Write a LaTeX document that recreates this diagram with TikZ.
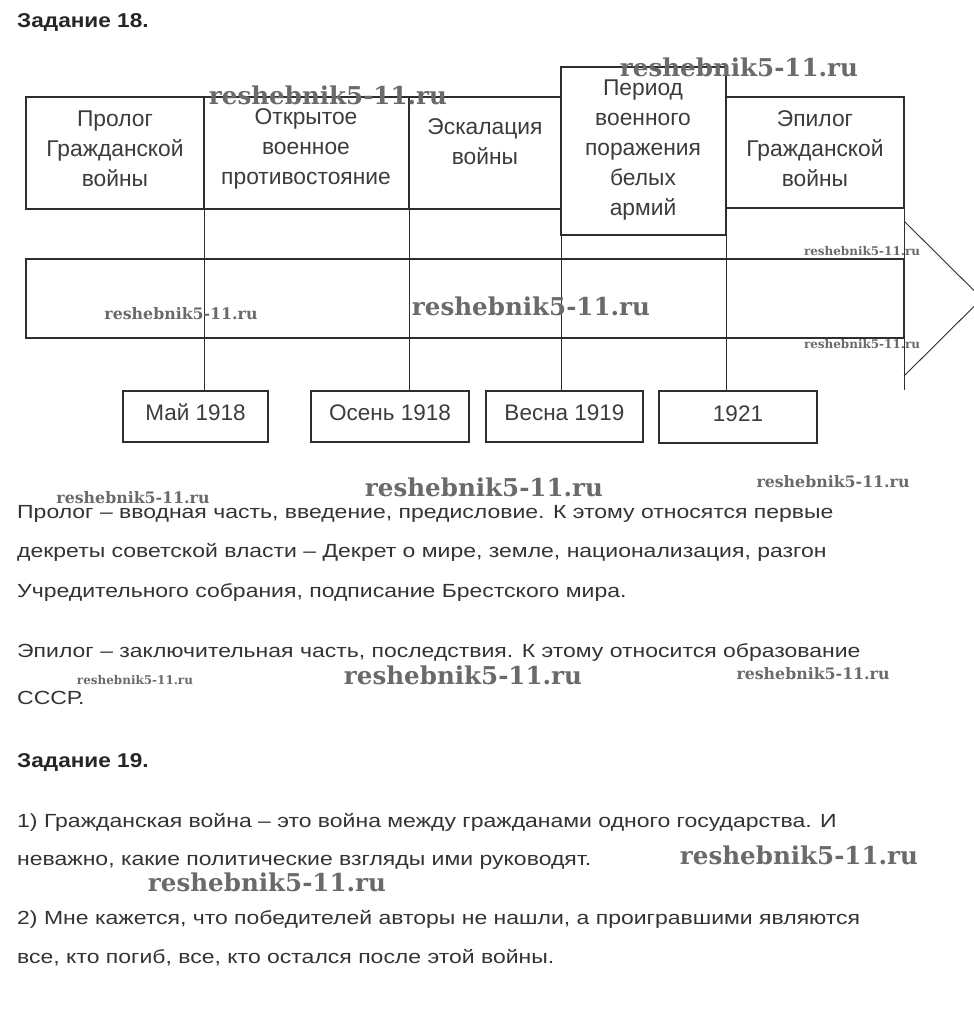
\documentclass[tikz,border=0pt]{standalone}
\usepackage{graphicx}
\usepackage{fontspec}
\setmainfont{Liberation Sans}
\newfontfamily\bodyfont{Liberation Sans}[FakeStretch=1.21]
\newfontfamily\headfont{Liberation Sans}[FakeStretch=1.13]
\newfontfamily\wmfont{DejaVu Serif}
\definecolor{linec}{HTML}{2E2E2E}
\definecolor{boxtxt}{HTML}{3C3C3C}
\definecolor{bodytxt}{HTML}{333333}
\definecolor{wmc}{HTML}{6A6A6A}
\begin{document}
\begin{tikzpicture}[x=1pt,y=-1pt,
  tbox/.style={draw=linec, line width=2pt, inner sep=0pt, outer sep=0pt, anchor=north west},
  band/.style={draw=linec, line width=1.4pt, inner sep=0pt, outer sep=0pt, anchor=north west},
  boxlabel/.style={align=center, text=boxtxt, inner sep=0pt, font=\fontsize{22.8}{30}\selectfont},
  datebox/.style={draw=linec, line width=2pt, inner sep=0pt, outer sep=0pt, anchor=north west, text=boxtxt, text height=16.5pt, text depth=8.5pt, font=\fontsize{22.5}{25}\selectfont},
  conn/.style={draw=linec, line width=0.9pt},
  para/.style={anchor=base west, inner sep=0pt, text=bodytxt, font=\bodyfont\fontsize{19}{23}\selectfont},
  head/.style={anchor=base west, inner sep=0pt, text=black!85, font=\headfont\fontsize{20}{23}\selectfont\bfseries},
  wm/.style={inner sep=0pt, text=wmc, font=\wmfont\bfseries}
]
\useasboundingbox (0,0) rectangle (974,1018);
\fill[white] (0,0) rectangle (974,1018);

% heading
\node[head] (h18) at (17,27) {Задание 18.};

% top boxes
\node[tbox, minimum width=178pt, minimum height=112pt] (b1) at (26,97) {};
\node[tbox, minimum width=205pt, minimum height=112pt] (b2) at (204,97) {};
\node[tbox, minimum width=152pt, minimum height=112pt] (b3) at (409,97) {};
\node[tbox, minimum width=165pt, minimum height=168pt] (b4) at (561,67) {};
\node[tbox, minimum width=178pt, minimum height=111pt] (b5) at (726,97) {};

\node[boxlabel] (t1) at (115,149) {Пролог\\Гражданской\\войны};
\node[boxlabel] (t2) at (306,149) {Открытое\\военное\\противостояние};
\node[boxlabel] (t3) at (485,142) {Эскалация\\войны};
\node[boxlabel] (t4) at (643,150) {Период\\военного\\поражения\\белых\\армий};
\node[boxlabel] (t5) at (815,149) {Эпилог\\Гражданской\\войны};

% band
\node[band, minimum width=878pt, minimum height=79pt] (bd) at (26,259) {};

% date boxes
\node[datebox, minimum width=145pt, minimum height=51pt] (m1) at (123,391) {Май 1918};
\node[datebox, minimum width=158pt, minimum height=51pt] (m2) at (311,391) {Осень 1918};
\node[datebox, minimum width=157pt, minimum height=51pt] (m3) at (486,391) {Весна 1919};
\node[datebox, minimum width=158pt, minimum height=52pt] (m4) at (659,391) {1921};

% connectors
\draw[conn] (b1.south east) -- (b1.south east |- m1.north);
\draw[conn] (b2.south east) -- (b2.south east |- m2.north);
\draw[conn] (b4.south west) -- (b4.south west |- m3.north);
\draw[conn] (b4.south east) -- (b4.south east |- m4.north);

% arrow head
\coordinate (abot) at (904,390);
\coordinate (ah1) at (904,221);
\coordinate (atip) at (982,298.5);
\coordinate (ah2) at (904,376);
\draw[conn] (b5.south east) -- (abot);
\begin{scope}
\clip (0,0) rectangle (974,1018);
\draw[conn] (ah1) -- (atip) -- (ah2);
\end{scope}

% paragraphs
\node[para] (p1) at (17,518) {Пролог – вводная часть, введение, предисловие. К этому относятся первые};
\node[para] (p2) at (17,557) {декреты советской власти – Декрет о мире, земле, национализация, разгон};
\node[para] (p3) at (17,597) {Учредительного собрания, подписание Брестского мира.};
\node[para] (p4) at (17,657) {Эпилог – заключительная часть, последствия. К этому относится образование};
\node[para] (p5) at (17,704) {СССР.};
\node[head] (h19) at (17,767) {Задание 19.};
\node[para] (q1) at (17,827) {1) Гражданская война – это война между гражданами одного государства. И};
\node[para] (q2) at (17,865) {неважно, какие политические взгляды ими руководят.};
\node[para] (q3) at (17,924) {2) Мне кажется, что победителей авторы не нашли, а проигравшими являются};
\node[para] (q4) at (17,963) {все, кто погиб, все, кто остался после этой войны.};

% watermarks
\node[wm] (w1) at (328,95) {\resizebox{238pt}{!}{reshebnik5-11.ru}};
\node[wm] (w2) at (739,67) {\resizebox{238pt}{!}{reshebnik5-11.ru}};
\node[wm] (w3) at (862,251) {\resizebox{116pt}{!}{reshebnik5-11.ru}};
\node[wm] (w4) at (181,314) {\resizebox{153pt}{!}{reshebnik5-11.ru}};
\node[wm] (w5) at (531,306) {\resizebox{238pt}{!}{reshebnik5-11.ru}};
\node[wm] (w6) at (862,344) {\resizebox{116pt}{!}{reshebnik5-11.ru}};
\node[wm] (w7) at (484,487) {\resizebox{238pt}{!}{reshebnik5-11.ru}};
\node[wm] (w8) at (133,498) {\resizebox{153pt}{!}{reshebnik5-11.ru}};
\node[wm] (w9) at (833,482) {\resizebox{153pt}{!}{reshebnik5-11.ru}};
\node[wm] (w10) at (135,680) {\resizebox{116pt}{!}{reshebnik5-11.ru}};
\node[wm] (w11) at (463,675) {\resizebox{238pt}{!}{reshebnik5-11.ru}};
\node[wm] (w12) at (813,674) {\resizebox{153pt}{!}{reshebnik5-11.ru}};
\node[wm] (w13) at (799,855) {\resizebox{238pt}{!}{reshebnik5-11.ru}};
\node[wm] (w14) at (267,882) {\resizebox{238pt}{!}{reshebnik5-11.ru}};
\end{tikzpicture}
\end{document}
